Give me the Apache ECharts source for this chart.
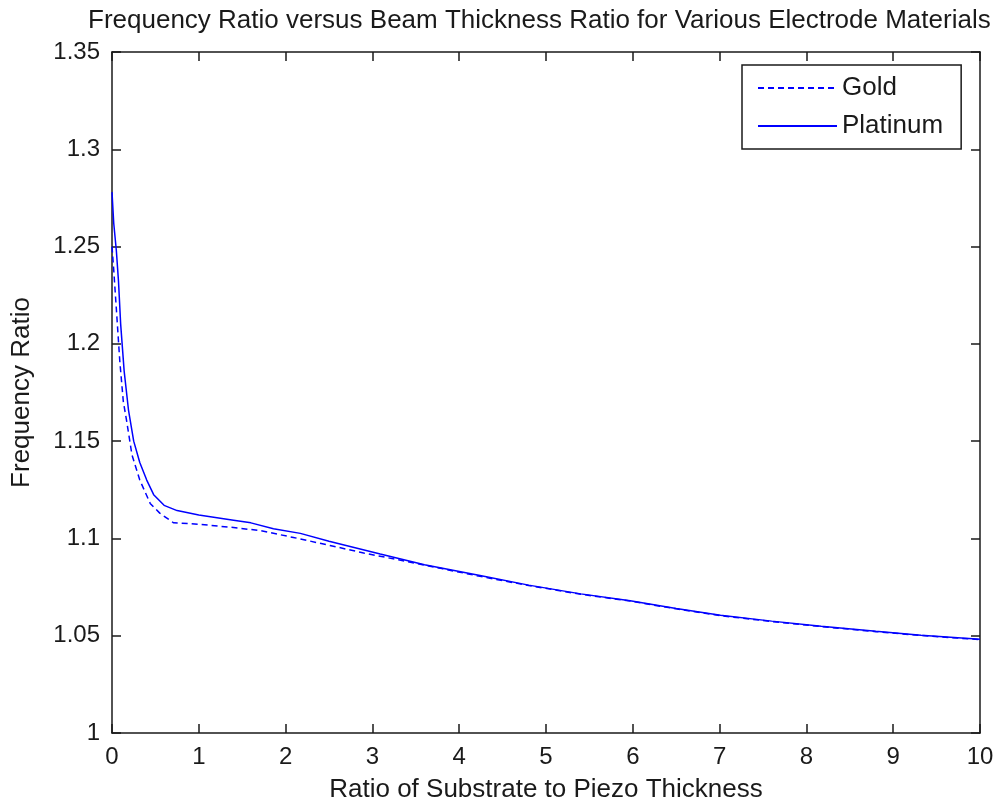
<!DOCTYPE html>
<html>
<head>
<meta charset="utf-8">
<script src="https://cdn.jsdelivr.net/npm/echarts@6/dist/echarts.min.js"></script>
<style>
html,body{margin:0;padding:0;background:#fff;}
#chart{width:998px;height:808px;}
</style>
</head>
<body>
<div id="chart"></div>
<script>
var titleText = 'Frequency Ratio versus Beam Thickness Ratio for Various Electrode Materials';
var xAxisName = 'Ratio of Substrate to Piezo Thickness';
var yAxisName = 'Frequency Ratio';
var seriesNames = ['Gold', 'Platinum'];

var goldX = [0, 0.02, 0.05, 0.09, 0.13, 0.17, 0.23, 0.32, 0.44, 0.55, 0.71, 1.0, 1.4, 1.71, 2.09, 2.51, 2.9, 3.3, 3.8, 4.24, 4.8, 5.4, 5.97, 6.5, 7.01, 7.6, 8.17, 8.8, 9.32, 10];
var goldY = [1.25, 1.238, 1.218, 1.191, 1.1705, 1.16, 1.143, 1.13, 1.118, 1.113, 1.108, 1.1073, 1.1056, 1.104, 1.1005, 1.0964, 1.0925, 1.089, 1.0845, 1.0805, 1.0758, 1.0713, 1.0678, 1.0638, 1.0603, 1.0573, 1.0547, 1.0521, 1.0501, 1.048];

var platX = [0, 0.02, 0.05, 0.075, 0.1, 0.14, 0.19, 0.25, 0.32, 0.4, 0.48, 0.6, 0.75, 1.0, 1.4, 1.6, 1.86, 2.17, 2.5, 3.09, 3.6, 4.24, 4.8, 5.4, 5.97, 6.5, 7.01, 7.6, 8.17, 8.8, 9.32, 10];
var platY = [1.278, 1.262, 1.248, 1.232, 1.21, 1.186, 1.166, 1.15, 1.139, 1.13, 1.1225, 1.117, 1.1143, 1.112, 1.1094, 1.108, 1.105, 1.1026, 1.0985, 1.092, 1.0865, 1.081, 1.076, 1.0715, 1.068, 1.064, 1.0605, 1.0575, 1.0549, 1.0523, 1.0503, 1.0482];

function pairs(xs, ys){ return xs.map(function(x,i){ return [x, ys[i]]; }); }

var FONT = 'Liberation Sans, Arial, sans-serif';
var TXT = '#1a1a1a';
var axisLine = {show:true, onZero:false, lineStyle:{color:'#1a1a1a', width:1.5}};
var tick = {show:true, inside:true, length:9, lineStyle:{color:'#1a1a1a', width:1.5}};

var chart = echarts.init(document.getElementById('chart'), null, {renderer:'canvas'});
chart.setOption({
  animation:false,
  backgroundColor:'#ffffff',
  title:{text:titleText, left:88, top:8, padding:0, textStyle:{fontFamily:FONT, fontSize:26, fontWeight:'normal', color:TXT}},
  grid:{left:112, top:52, right:18, bottom:71, containLabel:false},
  legend:{
    orient:'vertical', left:742, top:65,
    backgroundColor:'#ffffff', borderColor:'#1a1a1a', borderWidth:1.5,
    padding:[10,18,10,15], itemWidth:79, itemHeight:14, itemGap:12, itemTextGap:10,
    itemStyle:{opacity:0},
    textStyle:{fontFamily:FONT, fontSize:26, color:TXT},
    data:seriesNames
  },
  xAxis:[
    {type:'value', min:0, max:10, interval:1, position:'bottom',
     name:xAxisName, nameLocation:'middle', nameGap:44,
     nameTextStyle:{fontFamily:FONT, fontSize:26, color:TXT},
     axisLine:axisLine, axisTick:tick, splitLine:{show:false},
     axisLabel:{fontFamily:FONT, fontSize:24, color:TXT, margin:12}},
    {type:'value', min:0, max:10, interval:1, position:'top',
     axisLine:axisLine, axisTick:tick, splitLine:{show:false}, axisLabel:{show:false}}
  ],
  yAxis:[
    {type:'value', min:1, max:1.35, interval:0.05, position:'left',
     name:yAxisName, nameLocation:'middle', nameGap:77, nameRotate:90,
     nameTextStyle:{fontFamily:FONT, fontSize:26, color:TXT},
     axisLine:axisLine, axisTick:tick, splitLine:{show:false},
     axisLabel:{fontFamily:FONT, fontSize:24, color:TXT, margin:12}},
    {type:'value', min:1, max:1.35, interval:0.05, position:'right',
     axisLine:axisLine, axisTick:tick, splitLine:{show:false}, axisLabel:{show:false}}
  ],
  series:[
    {name:seriesNames[0], type:'line', xAxisIndex:0, yAxisIndex:0, symbol:'none', smooth:false,
     lineStyle:{color:'#0000ff', width:1.5, type:[6,4]}, itemStyle:{color:'#0000ff'},
     data:pairs(goldX, goldY)},
    {name:seriesNames[1], type:'line', xAxisIndex:0, yAxisIndex:0, symbol:'none', smooth:false,
     lineStyle:{color:'#0000ff', width:1.5, type:'solid'}, itemStyle:{color:'#0000ff'},
     data:pairs(platX, platY)}
  ]
});
</script>
</body>
</html>
